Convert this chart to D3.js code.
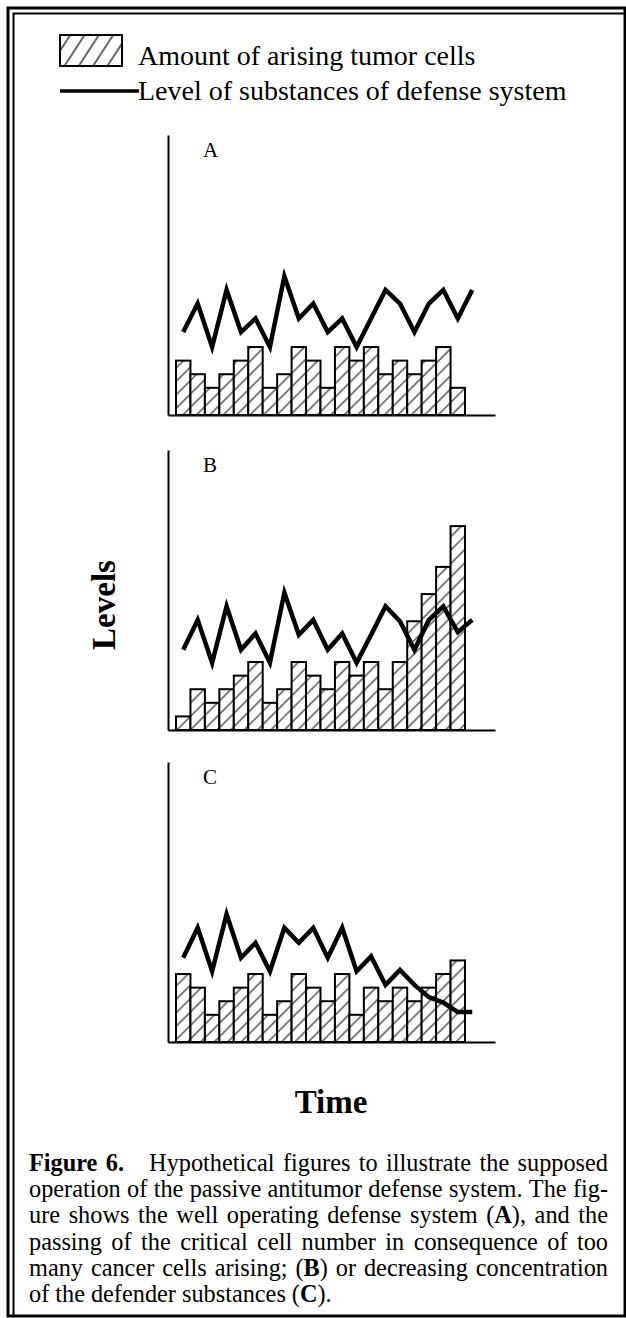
<!DOCTYPE html>
<html>
<head>
<meta charset="utf-8">
<script src="https://cdn.jsdelivr.net/npm/d3@7"></script>
<style>
  body { margin: 0; background: #fff; }
  svg { display: block; }
  text { font-family: 'Liberation Serif', 'Times New Roman', Times, serif; }
</style>
</head>
<body>
<svg id="chart" width="626" height="1318"></svg>
<script>
// values (arbitrary "level" units)
const legendLabels = ["Amount of arising tumor cells", "Level of substances of defense system"];
const panelLabels = ["A", "B", "C"];
const timeSteps = d3.range(20);

const barsA = [4, 3, 2, 3, 4, 5, 2, 3, 5, 4, 2, 5, 4, 5, 3, 4, 3, 4, 5, 2];
const lineA = [6.1, 8.2, 5.0, 9.2, 6.1, 7.1, 5.0, 10.2, 7.1, 8.2, 6.1, 7.1, 5.0, 7.1, 9.2, 8.2, 6.1, 8.2, 9.2, 7.1, 9.2];

const barsB = [1, 3, 2, 3, 4, 5, 2, 3, 5, 4, 3, 5, 4, 5, 3, 5, 8, 10, 12, 15];
const lineB = [5.9, 8.1, 4.95, 9.1, 5.9, 7.1, 4.95, 10.1, 7.0, 8.1, 5.9, 7.1, 4.95, 7.0, 9.1, 8.0, 5.9, 8.1, 9.1, 7.2, 8.1];

const barsC = [5, 4, 2, 3, 4, 5, 2, 3, 5, 4, 3, 5, 2, 4, 3, 4, 3, 4, 5, 6];
const lineC = [6.2, 8.4, 5.2, 9.4, 6.2, 7.3, 5.2, 8.4, 7.3, 8.4, 6.2, 8.4, 5.2, 6.3, 4.2, 5.3, 4.2, 3.3, 2.9, 2.2, 2.2];

const yLabel = "Levels";
const xLabel = "Time";
// *...* marks bold
const captionLines = [
  "*Figure* *6.*   Hypothetical figures to illustrate the supposed",
  "operation of the passive antitumor defense system. The fig-",
  "ure shows the well operating defense system (*A*), and the",
  "passing of the critical cell number in consequence of too",
  "many cancer cells arising; (*B*) or decreasing concentration",
  "of the defender substances (*C*)."
];

const serif = "'Liberation Serif', 'Times New Roman', Times, serif";
const svg = d3.select("#chart").attr("font-family", serif);

svg.append("rect").attr("width", 626).attr("height", 1318).attr("fill", "#fff");

// hatch fills
const defs = svg.append("defs");
function hatch(id, size, angle, sw) {
  const p = defs.append("pattern")
    .attr("id", id)
    .attr("patternUnits", "userSpaceOnUse")
    .attr("width", size).attr("height", size)
    .attr("patternTransform", `rotate(${angle})`);
  p.append("rect").attr("width", size).attr("height", size).attr("fill", "#fff");
  p.append("line")
    .attr("x1", size / 2).attr("y1", -1).attr("x2", size / 2).attr("y2", size + 1)
    .attr("stroke", "#000").attr("stroke-width", sw);
}
hatch("hatchBar", 9.5, 45, 1);
hatch("hatchLegend", 12, 33, 1.2);

// frame
svg.append("rect")
  .attr("x", 8).attr("y", 8).attr("width", 617).attr("height", 1308)
  .attr("fill", "none").attr("stroke", "#000").attr("stroke-width", 3);
svg.append("path")
  .attr("d", "M13.5,1316V13.5H625")
  .attr("fill", "none").attr("stroke", "#000").attr("stroke-width", 2);

// legend
const leg = svg.append("g").attr("font-family", serif).attr("font-size", 28);
leg.append("rect")
  .attr("x", 60).attr("y", 35).attr("width", 62).attr("height", 31)
  .attr("fill", "url(#hatchLegend)").attr("stroke", "#000").attr("stroke-width", 2);
leg.append("text").attr("x", 138).attr("y", 65).text(legendLabels[0]);
leg.append("line")
  .attr("x1", 60).attr("x2", 139).attr("y1", 91).attr("y2", 91)
  .attr("stroke", "#000").attr("stroke-width", 3.5);
leg.append("text").attr("x", 138).attr("y", 100).text(legendLabels[1]);

// panels
const panels = [
  { label: panelLabels[0], bars: barsA, line: lineA, base: 415 },
  { label: panelLabels[1], bars: barsB, line: lineB, base: 730 },
  { label: panelLabels[2], bars: barsC, line: lineC, base: 1042 }
];

const axisX = 168, axisRight = 495, barLeft = 176, barRight = 465, panelH = 280;
const x = d3.scaleBand().domain(timeSteps).range([barLeft, barRight]);
const bw = x.bandwidth();
const xl = d3.scaleLinear().domain([0, 20]).range([barLeft + bw / 2, barLeft + bw * 20.5]);
const xAxisScale = d3.scaleLinear().domain([0, 1]).range([axisX, axisRight]);

panels.forEach(p => {
  const y = d3.scaleLinear().domain([0, 20.6]).range([p.base, p.base - panelH]);
  const g = svg.append("g");

  g.selectAll("rect.bar")
    .data(p.bars)
    .join("rect")
      .attr("class", "bar")
      .attr("x", (d, i) => x(i))
      .attr("y", d => y(d))
      .attr("width", bw)
      .attr("height", d => y(0) - y(d))
      .attr("fill", "url(#hatchBar)")
      .attr("stroke", "#000")
      .attr("stroke-width", 2);

  const ya = g.append("g")
    .attr("transform", `translate(${axisX},0)`)
    .call(d3.axisLeft(y).tickValues([]).tickSizeOuter(0));
  const xa = g.append("g")
    .attr("transform", `translate(0,${p.base})`)
    .call(d3.axisBottom(xAxisScale).tickValues([]).tickSizeOuter(0));
  [ya, xa].forEach(a => a.select(".domain").attr("stroke", "#000").attr("stroke-width", 2));

  g.append("path")
    .datum(p.line)
    .attr("fill", "none")
    .attr("stroke", "#000")
    .attr("stroke-width", 4.5)
    .attr("stroke-linejoin", "miter")
    .attr("stroke-miterlimit", 5)
    .attr("d", d3.line().x((d, i) => xl(i)).y(d => y(d)));

  g.append("text")
    .attr("x", 203).attr("y", p.base - 258)
    .attr("font-size", 21)
    .text(p.label);
});

// axis titles
svg.append("text")
  .attr("transform", "translate(115,605) rotate(-90)")
  .attr("text-anchor", "middle")
  .attr("font-size", 33).attr("font-weight", "bold")
  .text(yLabel);
svg.append("text")
  .attr("x", 331).attr("y", 1113)
  .attr("text-anchor", "middle")
  .attr("font-size", 33).attr("font-weight", "bold")
  .text(xLabel);

// caption, justified between capLeft and capRight
const capLeft = 29, capRight = 608, capTop = 1171, capStep = 26.2;
const cap = svg.append("g").attr("font-size", 24.3);
captionLines.forEach((line, li) => {
  const parts = line.split(/( +)/);
  const words = parts.filter((_, i) => i % 2 === 0);
  const gaps = parts.filter((_, i) => i % 2 === 1).map(s => s.length);
  const nodes = words.map(w => {
    const t = cap.append("text").attr("y", capTop + li * capStep);
    w.split("*").forEach((s, k) => {
      if (s) t.append("tspan").attr("font-weight", k % 2 ? "bold" : "normal").text(s);
    });
    return t;
  });
  const widths = nodes.map(n => n.node().getComputedTextLength());
  const last = li === captionLines.length - 1;
  const unit = last ? 6 : Math.max(2, (capRight - capLeft - d3.sum(widths)) / d3.sum(gaps));
  let cx = capLeft;
  nodes.forEach((n, i) => {
    n.attr("x", cx);
    cx += widths[i] + (gaps[i] || 0) * unit;
  });
});
</script>
</body>
</html>
